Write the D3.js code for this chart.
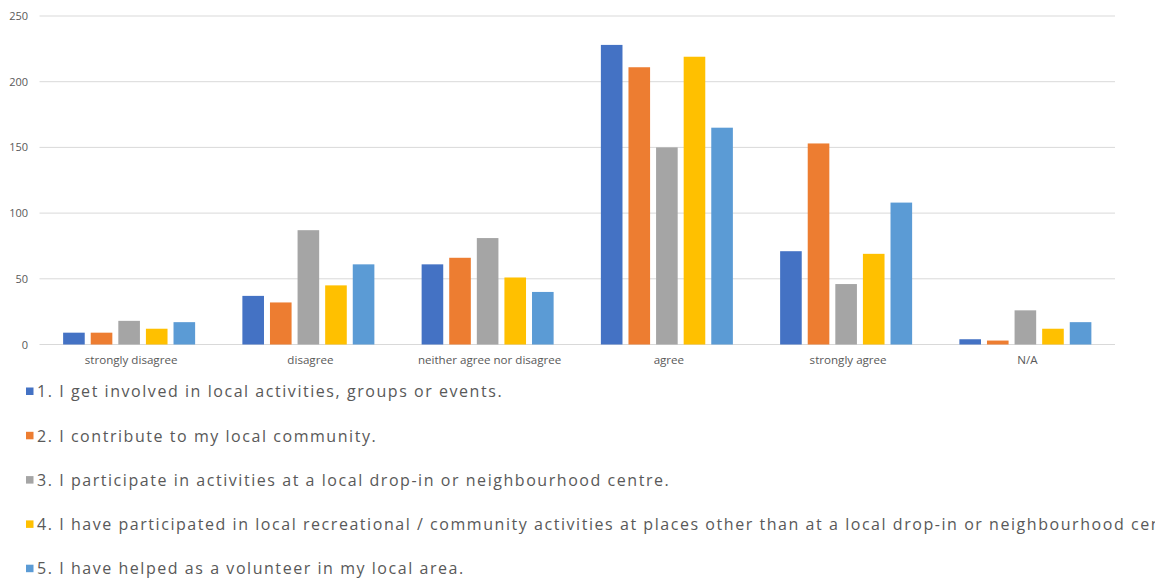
<!DOCTYPE html>
<html><head><meta charset="utf-8">
<script src="https://cdn.jsdelivr.net/npm/d3@7"></script>
<style>
html,body{margin:0;padding:0;background:#fff;overflow:hidden;}
svg{display:block;}
</style></head>
<body>
<svg id="chart" width="1155" height="581"></svg>
<script>
const categories = ["strongly disagree","disagree","neither agree nor disagree","agree","strongly agree","N/A"];
const seriesNames = [
  "1. I get involved in local activities, groups or events.",
  "2. I contribute to my local community.",
  "3. I participate in activities at a local drop-in or neighbourhood centre.",
  "4. I have participated in local recreational / community activities at places other than at a local drop-in or neighbourhood centre.",
  "5. I have helped as a volunteer in my local area."
];
const s1 = [9, 37, 61, 228, 71, 4];
const s2 = [9, 32, 66, 211, 153, 3];
const s3 = [18, 87, 81, 150, 46, 26];
const s4 = [12, 45, 51, 219, 69, 12];
const s5 = [17, 61, 40, 165, 108, 17];
const yTicks = [0, 50, 100, 150, 200, 250];
const colors = ["#4472C4","#ED7D31","#A5A5A5","#FFC000","#5B9BD5"];
const seriesValues = [s1, s2, s3, s4, s5];

(function () {
const svg = d3.select("#chart");
const mLeft = 39.5, mRight = 1115, mTop = 16, mBottom = 344.5;

const x0 = d3.scaleBand().domain(categories).range([mLeft, mRight]).paddingInner(0.2636).paddingOuter(0.1318);
const x1 = d3.scaleBand().domain(d3.range(5)).range([0, x0.bandwidth()]).paddingInner(0.217);
const y = d3.scaleLinear().domain([0, 250]).range([mBottom, mTop]);

svg.append("g").selectAll("line").data(yTicks).join("line")
  .attr("x1", mLeft).attr("x2", mRight)
  .attr("y1", d => y(d)).attr("y2", d => y(d))
  .attr("stroke", "#d9d9d9").attr("stroke-width", 1);

const yAxis = d3.axisLeft(y).tickValues(yTicks).tickSize(0).tickPadding(0);
const ya = svg.append("g").attr("transform", `translate(28,0)`).call(yAxis);
ya.select(".domain").remove();
ya.selectAll("text").attr("fill", "#595959").style("font-family", "'Open Sans', sans-serif").style("font-size", "11px");

const groups = svg.append("g").selectAll("g").data(categories).join("g")
  .attr("transform", d => `translate(${x0(d)},0)`);
groups.selectAll("rect").data((d, i) => seriesValues.map((s, k) => ({k, v: s[i]}))).join("rect")
  .attr("x", d => x1(d.k)).attr("width", x1.bandwidth())
  .attr("y", d => y(d.v)).attr("height", d => y(0) - y(d.v))
  .attr("fill", d => colors[d.k]);

const xAxis = d3.axisBottom(x0).tickSize(0).tickPadding(0);
const xa = svg.append("g").attr("transform", `translate(2,${mBottom + 11})`).call(xAxis);
xa.select(".domain").remove();
xa.selectAll("text").attr("fill", "#595959").style("font-family", "'Open Sans', sans-serif").style("font-size", "11.6px");

const lg = svg.append("g").selectAll("g").data(seriesNames).join("g")
  .attr("transform", (d, i) => `translate(26,${391.5 + i * 44.3})`);
lg.append("rect").attr("x", 0).attr("y", -4).attr("width", 7.5).attr("height", 7.5)
  .attr("fill", (d, i) => colors[i]);
lg.append("text").attr("x", 11).attr("y", 0).attr("dy", "0.36em")
  .attr("fill", "#595959").style("font-family", "'Open Sans', sans-serif").style("font-size", "16px")
  .style("letter-spacing", "1.55px")
  .text(d => d);
})();
</script>
</body></html>
